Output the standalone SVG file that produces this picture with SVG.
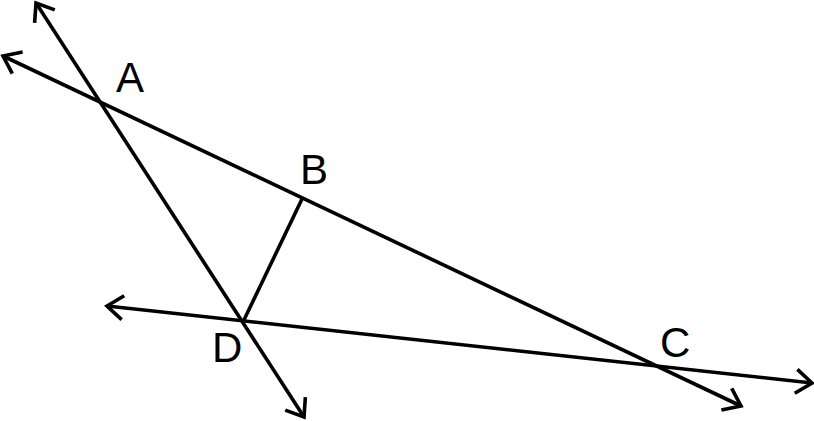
<svg xmlns="http://www.w3.org/2000/svg" width="814" height="421" viewBox="0 0 814 421">
<style>
.ln{stroke:#000;stroke-width:3.6;fill:none}
.lbl{font-family:"Liberation Sans",Arial,sans-serif;font-size:42px;fill:#000}
</style>
<defs>
<marker id="arr" markerUnits="userSpaceOnUse" viewBox="-20 -15 24 30" refX="0" refY="0" markerWidth="24" markerHeight="30" orient="auto-start-reverse">
<path d="M-16,-12 L0,0 L-16,12" fill="none" stroke="#000" stroke-width="3.6"/>
</marker>
</defs>
<rect width="814" height="421" fill="#fff"/>
<g id="connectors">
<line class="ln" x1="3" y1="56" x2="741" y2="406" marker-start="url(#arr)" marker-end="url(#arr)"/>
<line class="ln" x1="36" y1="3" x2="304" y2="417" marker-start="url(#arr)" marker-end="url(#arr)"/>
<line class="ln" x1="107" y1="306" x2="812" y2="383" marker-start="url(#arr)" marker-end="url(#arr)"/>
<line class="ln" x1="302" y1="199" x2="243" y2="322"/>
</g>
<g id="A"><text class="lbl" x="116" y="92">A</text></g>
<g id="B"><text class="lbl" x="300" y="184">B</text></g>
<g id="C"><text class="lbl" x="660" y="357">C</text></g>
<g id="D"><text class="lbl" x="212" y="362">D</text></g>
</svg>
